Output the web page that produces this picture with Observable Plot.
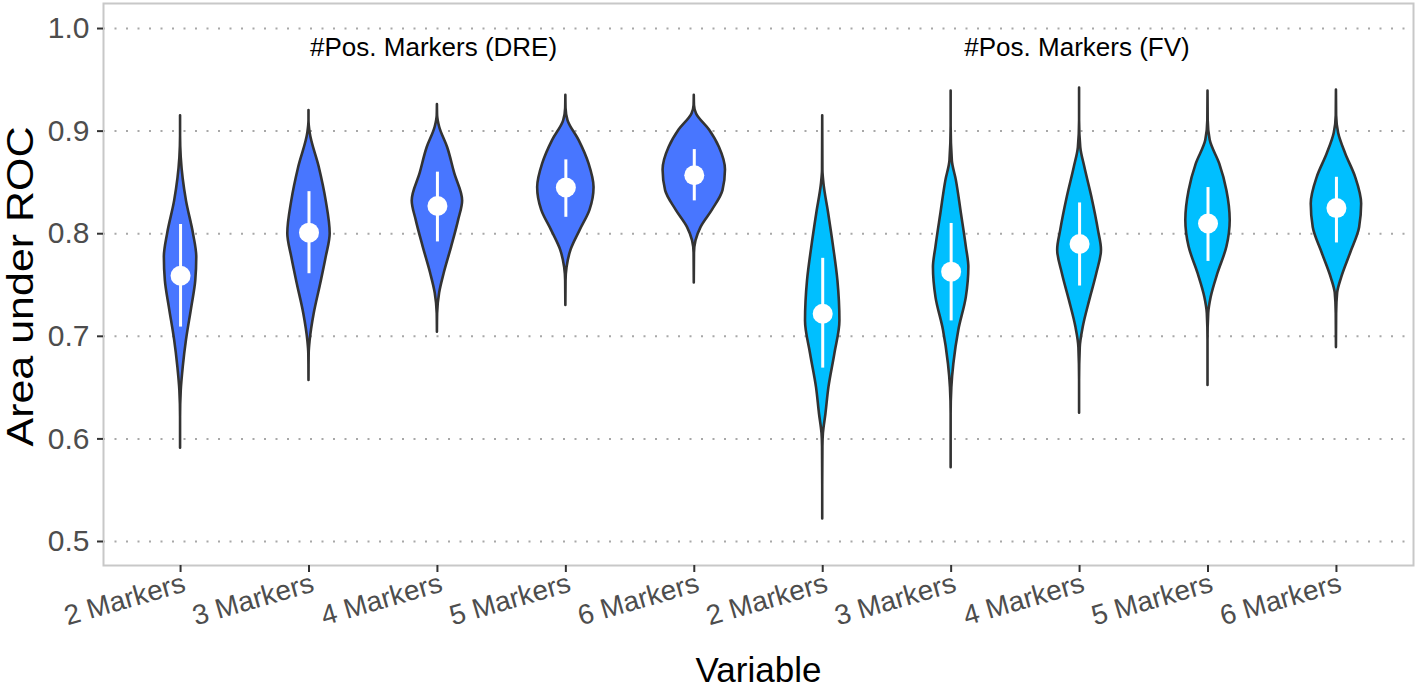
<!DOCTYPE html>
<html>
<head>
<meta charset="utf-8">
<script src="https://cdn.jsdelivr.net/npm/d3@7"></script>
<script src="https://cdn.jsdelivr.net/npm/@observablehq/plot@0.6"></script>
<style>
  body { margin: 0; background: #fff; }
  #chart svg { display: block; }
</style>
</head>
<body>
<div id="chart"></div>
<script>
// ---- Data ----
const markerLabels = ["2 Markers", "3 Markers", "4 Markers", "5 Markers", "6 Markers",
                      "2 Markers", "3 Markers", "4 Markers", "5 Markers", "6 Markers"];
const groupOf = ["DRE", "DRE", "DRE", "DRE", "DRE", "FV", "FV", "FV", "FV", "FV"];
const groupNames = ["DRE", "FV"];
const groupTitles = ["#Pos. Markers (DRE)", "#Pos. Markers (FV)"];
const yTicks = [0.5, 0.6, 0.7, 0.8, 0.9, 1.0];

// median and summary interval (white bar) per violin
const medians = [0.759, 0.801, 0.827, 0.845, 0.857, 0.722, 0.763, 0.790, 0.810, 0.825];
const lows    = [0.709, 0.761, 0.792, 0.816, 0.832, 0.669, 0.715, 0.749, 0.773, 0.791];
const highs   = [0.809, 0.841, 0.860, 0.872, 0.882, 0.776, 0.810, 0.830, 0.845, 0.855];

// violin density profiles: [AUC value, relative density]
const profiles = [
  [[0.591,0],[0.621,0.5],[0.647,1.5],[0.670,3.5],[0.696,6.7],[0.728,12],[0.754,16],[0.777,17],[0.800,13.7],[0.832,6.7],[0.874,1.5],[0.895,0.5],[0.915,0]],
  [[0.657,0],[0.683,1],[0.696,2],[0.722,6],[0.751,12.5],[0.777,18],[0.800,22],[0.832,18],[0.865,11],[0.898,2],[0.910,0.5],[0.920,0]],
  [[0.704,0],[0.722,1],[0.742,3],[0.761,7.5],[0.787,15],[0.813,22],[0.832,26],[0.859,18],[0.884,11],[0.904,3],[0.915,1],[0.926,0]],
  [[0.730,0],[0.754,1],[0.767,2],[0.784,6],[0.803,15],[0.823,25],[0.845,29],[0.868,24],[0.891,14],[0.910,3],[0.922,1],[0.935,0]],
  [[0.752,0],[0.781,1],[0.793,2.5],[0.806,7.5],[0.823,19],[0.842,29.5],[0.862,32],[0.884,26],[0.901,16],[0.917,3],[0.925,1],[0.935,0]],
  [[0.522,0],[0.553,0.7],[0.592,1],[0.605,1.5],[0.624,4],[0.650,7],[0.683,13],[0.715,18],[0.754,16],[0.787,11.7],[0.820,6.7],[0.849,2],[0.862,1],[0.915,0]],
  [[0.572,0],[0.624,0.8],[0.650,1.5],[0.673,3.5],[0.706,8.5],[0.738,16],[0.767,18.5],[0.787,16],[0.820,11],[0.852,6],[0.871,2],[0.905,0.8],[0.939,0]],
  [[0.625,0],[0.657,0.8],[0.689,1.5],[0.709,4.5],[0.735,11],[0.761,18],[0.784,22.7],[0.803,19.7],[0.836,13],[0.865,6],[0.884,2],[0.910,0.8],[0.942,0]],
  [[0.652,0],[0.696,0.8],[0.722,1.5],[0.738,4],[0.761,10.7],[0.787,19.7],[0.813,23],[0.842,19.7],[0.868,12.5],[0.891,3],[0.910,1],[0.939,0]],
  [[0.689,0],[0.722,1],[0.742,2],[0.757,6],[0.781,15],[0.806,24],[0.829,26],[0.855,20],[0.878,10],[0.898,3],[0.915,1],[0.940,0]]
];

// ---- Derived tables ----
const widthScale = 10.2 / 1310; // density units -> x units
const violinRows = profiles.flatMap((p, i) =>
  p.map(([v, w]) => ({i: i + 1, v, w: Math.max(0, w - 0.8), group: groupOf[i]})));
const summary = medians.map((m, i) => ({i: i + 1, med: m, lo: lows[i], hi: highs[i]}));
const titleRows = groupTitles.map((t, k) => ({t, x: k === 0 ? 2.97 : 7.98, y: 0.981}));

const chart = Plot.plot({
  width: 1418,
  height: 695,
  marginLeft: 103,
  marginRight: 5,
  marginTop: 3,
  marginBottom: 130,
  style: {fontFamily: "'Liberation Sans', Arial, sans-serif", background: "#fff"},
  x: {domain: [0.4, 10.6], axis: null},
  y: {domain: [0.4766, 1.0244], axis: null},
  color: {domain: groupNames, range: ["#4876FF", "#00BFFF"]},
  marks: [
    Plot.gridY(yTicks, {stroke: "#a8a8a8", strokeOpacity: 1, strokeWidth: 2, strokeDasharray: "2,9.5"}),
    Plot.frame({stroke: "#c8c8c8", strokeWidth: 2}),
    Plot.axisY({ticks: yTicks, tickFormat: d3.format(".1f"), tickSize: 6, tickPadding: 8,
      fontSize: 30, stroke: "#333", fill: "#4d4d4d", strokeWidth: 2, label: null}),
    Plot.axisX({ticks: d3.range(1, 11), tickFormat: i => markerLabels[i - 1], tickSize: 7, tickPadding: 4,
      tickRotate: -16, fontSize: 28, stroke: "#333", fill: "#4d4d4d", strokeWidth: 2, label: null}),
    Plot.areaX(violinRows, {
      z: "i", y: "v",
      x1: d => d.i - d.w * widthScale,
      x2: d => d.i + d.w * widthScale,
      fill: "group", stroke: "#333", strokeWidth: 2.6, curve: "monotone-y"
    }),
    Plot.ruleX(summary, {x: "i", y1: "lo", y2: "hi", stroke: "white", strokeWidth: 3}),
    Plot.dot(summary, {x: "i", y: "med", r: 10, fill: "white", stroke: null}),
    Plot.text(titleRows, {x: "x", y: "y", text: "t", fontSize: 26, fill: "black"}),
    Plot.text(["Area under ROC"], {text: d => d, frameAnchor: "left", dx: -82, rotate: -90, fontSize: 36, fill: "black", className: "ytitle"}),
    Plot.text(["Variable"], {text: d => d, frameAnchor: "bottom", dy: 116, fontSize: 35, fill: "black"})
  ]
});
// shift x tick labels slightly down/right like the reference
chart.querySelectorAll("g[aria-label='x-axis tick label']").forEach(g => {
  g.setAttribute("transform", (g.getAttribute("transform") || "") + " translate(4,6)");
});
// stretch the rotated y title to the reference's length (anchored at its start)
chart.querySelectorAll(".ytitle text").forEach(t => {
  t.setAttribute("text-anchor", "start");
  t.setAttribute("x", -162);
  t.setAttribute("textLength", 320);
  t.setAttribute("lengthAdjust", "spacingAndGlyphs");
});
document.getElementById("chart").appendChild(chart);
</script>
</body>
</html>
